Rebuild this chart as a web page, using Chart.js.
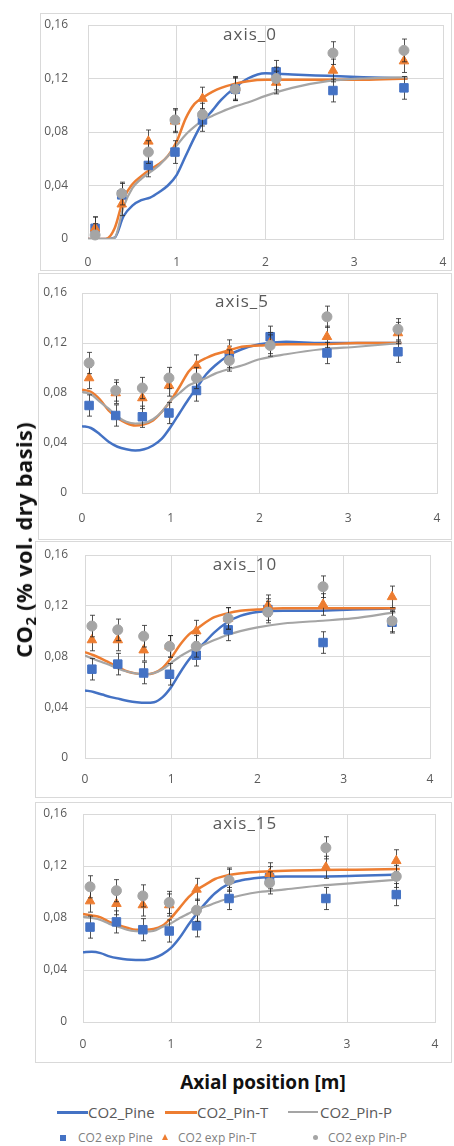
<!DOCTYPE html>
<html>
<head>
<meta charset="utf-8">
<script src="https://cdn.jsdelivr.net/npm/chart.js@4.4.1/dist/chart.umd.min.js"></script>
<style>
  html, body { margin:0; padding:0; background:#fff; width:454px; height:1146px; overflow:hidden; font-family:"Open Sans", sans-serif; }
  .frame { position:absolute; border:1px solid #d9d9d9; box-sizing:border-box; }
  .chartbox { position:absolute; }
  .ptitle { position:absolute; font-size:17px; color:#595959; letter-spacing:1px; transform:translate(-50%,-50%); white-space:nowrap; }
  .ytitle { position:absolute; left:23px; top:540px; transform:translate(-50%,-50%) rotate(-90deg); font-weight:700; font-size:22px; letter-spacing:0.3px; color:#111; white-space:nowrap; line-height:26px; }
  .ytitle sub { font-size:15px; vertical-align:-4px; line-height:0; }
  .xtitle { position:absolute; left:263px; top:1082px; transform:translate(-50%,-50%); font-weight:700; font-size:19px; color:#111; white-space:nowrap; }
  .lg { position:absolute; white-space:nowrap; }
  .lgline { position:absolute; height:2.5px; }
  .lgt1 { font-size:15px; color:#595959; line-height:20px; }
  .lgt2 { font-size:12px; color:#7f7f7f; line-height:18px; }
</style>
</head>
<body>
<div id="root"></div>
<div class="ytitle">CO<sub>2</sub> (% vol. dry basis)</div>
<div class="xtitle">Axial position [m]</div>

<div class="lgline" style="left:57px;top:1111px;width:31px;background:#4472C4"></div>
<div class="lg lgt1" style="left:88px;top:1102px">CO2_Pine</div>
<div class="lgline" style="left:165px;top:1111px;width:32px;background:#ED7D31"></div>
<div class="lg lgt1" style="left:197px;top:1102px">CO2_Pin-T</div>
<div class="lgline" style="left:288px;top:1111px;width:30px;height:2px;background:#A5A5A5"></div>
<div class="lg lgt1" style="left:320px;top:1102px">CO2_Pin-P</div>

<div style="position:absolute;left:60px;top:1135px;width:6px;height:6px;background:#4472C4"></div>
<div class="lg lgt2" style="left:78px;top:1129px">CO2 exp Pine</div>
<div style="position:absolute;left:162px;top:1134px;width:0;height:0;border-left:3.5px solid transparent;border-right:3.5px solid transparent;border-bottom:6px solid #ED7D31"></div>
<div class="lg lgt2" style="left:178px;top:1129px">CO2 exp Pin-T</div>
<div style="position:absolute;left:313px;top:1135px;width:5px;height:5px;border-radius:50%;background:#A5A5A5"></div>
<div class="lg lgt2" style="left:328px;top:1129px">CO2 exp Pin-P</div>

<script>
// ---------- DATA ----------
const panelTitles = ['axis_0', 'axis_5', 'axis_10', 'axis_15'];
const xTickValues = [0, 1, 2, 3, 4];
const xTickLabels = ['0', '1', '2', '3', '4'];
const yTickValues = [0, 0.04, 0.08, 0.12, 0.16];
const yTickLabels = ['0', '0,04', '0,08', '0,12', '0,16'];

// model curves (axial position grid)
const modelX = [0, 0.1, 0.2, 0.3, 0.4, 0.5, 0.6, 0.7, 0.8, 0.9, 1.0, 1.1, 1.2, 1.3, 1.4, 1.5, 1.65, 1.8, 2.0, 2.3, 2.7, 3.1, 3.6];

const axis0_Pine  = [0, 0, 0, 0.001, 0.017, 0.025, 0.029, 0.031, 0.035, 0.040, 0.048, 0.062, 0.076, 0.088, 0.096, 0.104, 0.113, 0.120, 0.124, 0.123, 0.122, 0.121, 0.120];
const axis0_PinT  = [0, 0, 0, 0.008, 0.030, 0.041, 0.047, 0.052, 0.056, 0.062, 0.073, 0.090, 0.101, 0.106, 0.110, 0.113, 0.116, 0.118, 0.119, 0.119, 0.119, 0.119, 0.120];
const axis0_PinP  = [0, 0, 0, 0.001, 0.024, 0.038, 0.045, 0.050, 0.055, 0.062, 0.070, 0.078, 0.084, 0.089, 0.092, 0.095, 0.099, 0.102, 0.107, 0.113, 0.118, 0.120, 0.121];

const axis5_Pine  = [0.0535, 0.052, 0.047, 0.041, 0.037, 0.035, 0.034, 0.035, 0.038, 0.0435, 0.053, 0.064, 0.075, 0.085, 0.095, 0.102, 0.110, 0.115, 0.119, 0.121, 0.120, 0.120, 0.120];
const axis5_PinT  = [0.0827, 0.081, 0.075, 0.066, 0.060, 0.056, 0.054, 0.055, 0.058, 0.065, 0.074, 0.085, 0.097, 0.104, 0.108, 0.111, 0.114, 0.117, 0.118, 0.119, 0.119, 0.120, 0.120];
const axis5_PinP  = [0.081, 0.079, 0.073, 0.0675, 0.061, 0.057, 0.0556, 0.056, 0.059, 0.065, 0.074, 0.080, 0.086, 0.089, 0.092, 0.0955, 0.099, 0.102, 0.107, 0.111, 0.115, 0.117, 0.120];

const axis10_Pine = [0.0533, 0.052, 0.050, 0.048, 0.0465, 0.045, 0.044, 0.0435, 0.044, 0.048, 0.056, 0.067, 0.077, 0.085, 0.092, 0.099, 0.107, 0.112, 0.115, 0.116, 0.116, 0.117, 0.118];
const axis10_PinT = [0.0834, 0.081, 0.078, 0.0745, 0.071, 0.068, 0.0665, 0.066, 0.067, 0.071, 0.079, 0.089, 0.097, 0.102, 0.107, 0.111, 0.114, 0.116, 0.117, 0.118, 0.118, 0.118, 0.118];
const axis10_PinP = [0.0808, 0.078, 0.0755, 0.073, 0.070, 0.068, 0.0665, 0.066, 0.067, 0.070, 0.075, 0.080, 0.084, 0.087, 0.090, 0.093, 0.097, 0.100, 0.103, 0.106, 0.108, 0.110, 0.115];

const axis15_Pine = [0.0536, 0.054, 0.053, 0.0505, 0.049, 0.048, 0.0477, 0.0477, 0.049, 0.052, 0.057, 0.065, 0.075, 0.084, 0.092, 0.099, 0.106, 0.109, 0.111, 0.112, 0.112, 0.1125, 0.1135];
const axis15_PinT = [0.083, 0.082, 0.0805, 0.077, 0.0745, 0.0725, 0.071, 0.071, 0.0715, 0.074, 0.080, 0.088, 0.096, 0.102, 0.106, 0.110, 0.113, 0.1145, 0.1155, 0.1164, 0.117, 0.1172, 0.1176];
const axis15_PinP = [0.081, 0.080, 0.0785, 0.0755, 0.0733, 0.071, 0.0698, 0.0695, 0.070, 0.073, 0.076, 0.080, 0.0835, 0.087, 0.089, 0.0915, 0.095, 0.0975, 0.100, 0.102, 0.105, 0.107, 0.1096];

// experimental points
const expX = [0.08, 0.38, 0.68, 0.98, 1.29, 1.66, 2.12, 2.76, 3.56];
const expErr = 0.0085;

const axis0_expPine  = [0.008, 0.033, 0.055, 0.065, 0.089, 0.112, 0.125, 0.111, 0.113];
const axis0_expPinT  = [0.008, 0.026, 0.073, 0.088, 0.105, 0.113, 0.117, 0.126, 0.133];
const axis0_expPinP  = [0.003, 0.034, 0.065, 0.089, 0.093, 0.112, 0.120, 0.139, 0.141];

const axis5_expPine  = [0.070, 0.062, 0.061, 0.064, 0.082, 0.109, 0.125, 0.112, 0.113];
const axis5_expPinT  = [0.092, 0.080, 0.076, 0.086, 0.102, 0.114, 0.120, 0.125, 0.128];
const axis5_expPinP  = [0.104, 0.082, 0.084, 0.092, 0.092, 0.106, 0.118, 0.141, 0.131];

const axis10_expPine = [0.070, 0.074, 0.067, 0.066, 0.081, 0.101, 0.117, 0.091, 0.107];
const axis10_expPinT = [0.093, 0.093, 0.085, 0.088, 0.100, 0.110, 0.120, 0.121, 0.127];
const axis10_expPinP = [0.104, 0.101, 0.096, 0.088, 0.088, 0.110, 0.115, 0.135, 0.108];

const axis15_expPine = [0.073, 0.077, 0.071, 0.070, 0.074, 0.095, 0.111, 0.095, 0.098];
const axis15_expPinT = [0.093, 0.091, 0.090, 0.090, 0.102, 0.110, 0.114, 0.119, 0.124];
const axis15_expPinP = [0.104, 0.101, 0.097, 0.092, 0.086, 0.109, 0.107, 0.134, 0.112];

// ---------- LAYOUT (page pixels) ----------
const layouts = [
  { box:[40, 13, 452, 271],  plot:[88, 25, 443, 239],  yPad:20, xPad:16, title:[250, 33] },
  { box:[38, 273, 452, 540], plot:[82, 293, 437, 493], yPad:15, xPad:18, title:[242, 300] },
  { box:[35, 541, 452, 798], plot:[85, 555, 430, 758], yPad:17, xPad:14, title:[245, 563] },
  { box:[35, 802, 452, 1063],plot:[83, 814, 435, 1022],yPad:16, xPad:15, title:[245, 822] }
];

const modelSets = [
  [axis0_Pine, axis0_PinT, axis0_PinP],
  [axis5_Pine, axis5_PinT, axis5_PinP],
  [axis10_Pine, axis10_PinT, axis10_PinP],
  [axis15_Pine, axis15_PinT, axis15_PinP]
];
const expSets = [
  [axis0_expPine, axis0_expPinT, axis0_expPinP],
  [axis5_expPine, axis5_expPinT, axis5_expPinP],
  [axis10_expPine, axis10_expPinT, axis10_expPinP],
  [axis15_expPine, axis15_expPinT, axis15_expPinP]
];

const COLORS = ['#4472C4', '#ED7D31', '#A5A5A5'];
const modelNames = ['CO2_Pine', 'CO2_Pin-T', 'CO2_Pin-P'];
const expNames = ['CO2 exp Pine', 'CO2 exp Pin-T', 'CO2 exp Pin-P'];
const pointStyles = ['rect', 'triangle', 'circle'];
const pointRadii = [6, 5.5, 5];

const toXY = (xs, ys) => ys.map((y, i) => ({ x: xs[i], y: y }));

const errorBarPlugin = {
  id: 'errorBars',
  beforeDatasetDraw(chart, args) {
    const ds = chart.data.datasets[args.index];
    if (ds.errorBar === undefined) return;
    const xs = chart.scales.x, ys = chart.scales.y, ctx = chart.ctx, a = chart.chartArea;
    ctx.save();
    ctx.beginPath();
    ctx.rect(a.left, a.top, a.right - a.left, a.bottom - a.top);
    ctx.clip();
    ctx.strokeStyle = 'rgba(40,40,40,0.8)';
    ctx.lineWidth = 1;
    ds.data.forEach(p => {
      const px = Math.round(xs.getPixelForValue(p.x)) + 0.5;
      const t = ys.getPixelForValue(p.y + ds.errorBar);
      const b = ys.getPixelForValue(p.y - ds.errorBar);
      ctx.beginPath();
      ctx.moveTo(px, t); ctx.lineTo(px, b);
      ctx.moveTo(px - 2.5, t); ctx.lineTo(px + 2.5, t);
      ctx.moveTo(px - 2.5, b); ctx.lineTo(px + 2.5, b);
      ctx.stroke();
    });
    ctx.restore();
  }
};

const root = document.getElementById('root');
layouts.forEach((L, k) => {
  const [bl, bt, br, bb] = L.box;
  const [pl, pt, pr, pb] = L.plot;
  const W = br - bl, H = bb - bt;

  const frame = document.createElement('div');
  frame.className = 'frame';
  frame.style.cssText = `left:${bl}px;top:${bt}px;width:${W}px;height:${H}px;`;
  root.appendChild(frame);

  const holder = document.createElement('div');
  holder.className = 'chartbox';
  holder.style.cssText = `left:${bl}px;top:${bt}px;width:${W}px;height:${H}px;`;
  const cv = document.createElement('canvas');
  cv.width = W; cv.height = H;
  cv.style.width = W + 'px'; cv.style.height = H + 'px';
  holder.appendChild(cv);
  root.appendChild(holder);

  const t = document.createElement('div');
  t.className = 'ptitle';
  t.style.left = L.title[0] + 'px';
  t.style.top = L.title[1] + 'px';
  t.textContent = panelTitles[k];
  root.appendChild(t);

  const datasets = [];
  modelSets[k].forEach((arr, s) => {
    datasets.push({
      label: modelNames[s],
      data: toXY(modelX, arr),
      showLine: true,
      borderColor: COLORS[s],
      backgroundColor: COLORS[s],
      borderWidth: s === 2 ? 2.2 : 2.5,
      pointRadius: 0,
      pointHoverRadius: 0,
      cubicInterpolationMode: 'monotone',
      order: 6 - s
    });
  });
  expSets[k].forEach((arr, s) => {
    datasets.push({
      label: expNames[s],
      data: toXY(expX, arr),
      showLine: false,
      errorBar: expErr,
      pointStyle: pointStyles[s],
      pointRadius: pointRadii[s],
      pointBackgroundColor: COLORS[s],
      pointBorderColor: COLORS[s],
      pointBorderWidth: 1,
      clip: false,
      order: 3 - s
    });
  });

  const fontTick = { family: 'Open Sans', size: 12 };
  new Chart(cv, {
    type: 'scatter',
    data: { datasets },
    plugins: [errorBarPlugin],
    options: {
      responsive: false,
      animation: false,
      events: [],
      layout: { padding: { left: 0, top: pt - bt, right: br - pr, bottom: 0 } },
      plugins: { legend: { display: false }, tooltip: { enabled: false }, title: { display: false } },
      scales: {
        x: {
          type: 'linear', min: 0, max: 4,
          afterBuildTicks: s => { s.ticks = xTickValues.map(v => ({ value: v })); },
          afterFit: s => { s.height = bb - pb; },
          ticks: { callback: (v, i) => xTickLabels[i], color: '#595959', font: fontTick, padding: 0, maxRotation: 0 },
          grid: { color: '#d9d9d9', drawTicks: true, tickLength: L.xPad, tickColor: 'rgba(0,0,0,0)', lineWidth: 1 },
          border: { color: '#d9d9d9' }
        },
        y: {
          type: 'linear', min: 0, max: 0.16,
          afterBuildTicks: s => { s.ticks = yTickValues.map(v => ({ value: v })); },
          afterFit: s => { s.width = pl - bl; },
          ticks: { callback: (v, i) => yTickLabels[i], color: '#595959', font: fontTick, padding: 0 },
          grid: { color: '#d9d9d9', drawTicks: true, tickLength: L.yPad, tickColor: 'rgba(0,0,0,0)', lineWidth: 1 },
          border: { color: '#d9d9d9' }
        }
      }
    }
  });
});
</script>
</body>
</html>
